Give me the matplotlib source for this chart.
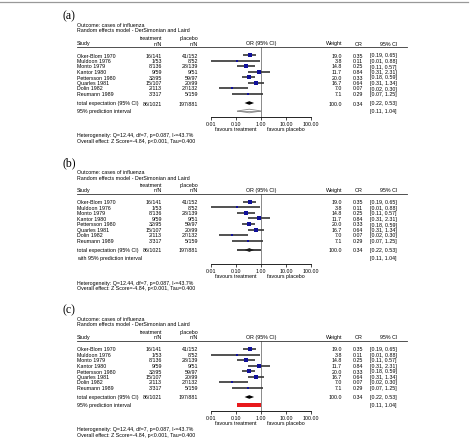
import numpy as np
import matplotlib.pyplot as plt
from matplotlib.lines import Line2D

# =====================================================
# DATA
# =====================================================

studies = ["Oker-Blom 1970", "Muldoon 1976", "Monto 1979", "Kantor 1980",
           "Pettersson 1980", "Quarles 1981", "Dolin 1982", "Reumann 1989"]
treat_nN = ["16/141", "1/53", "8/136", "9/59", "32/95", "15/107", "2/113", "3/317"]
plac_nN = ["41/152", "8/52", "28/139", "9/51", "59/97", "20/99", "27/132", "5/159"]
weight = np.array([19.0, 3.8, 14.8, 11.7, 20.0, 16.7, 7.0, 7.1])
odds = np.array([0.35, 0.11, 0.25, 0.84, 0.33, 0.64, 0.07, 0.29])
ci_lo = np.array([0.19, 0.01, 0.11, 0.31, 0.18, 0.31, 0.02, 0.07])
ci_hi = np.array([0.65, 0.88, 0.57, 2.31, 0.59, 1.34, 0.30, 1.25])

total_treat, total_plac = "86/1021", "197/881"
total_w, total_or, total_lo, total_hi = 100.0, 0.34, 0.22, 0.53
pred_lo, pred_hi = 0.11, 1.04

ticks = [0.01, 0.1, 1, 10, 100]

panel_labels = ["(a)", "(b)", "(c)"]
pred_texts = ["95% prediction interval", "with 95% prediction interval",
              "95% prediction interval"]

# =====================================================
# LAYOUT (pixels)
# =====================================================

W, H = 477, 439
FS = 3.8
plt.rcParams['font.family'] = ['Liberation Sans', 'DejaVu Sans']

fig = plt.figure(figsize=(W / 100, H / 100), dpi=100)


def fx(px):
    return px / W


def fy(py):
    return 1 - py / H


def txt(x, y, s, ha="left", **kw):
    fig.text(fx(x), fy(y), s, ha=ha, va="center", fontsize=kw.pop("fontsize", FS), **kw)


# page border at the top
fig.add_artist(Line2D([0, fx(468)], [fy(3), fy(3)], color="#999999", lw=0.9))

x_study, x_tr, x_pl = 77, 162, 198
x_w, x_or, x_ci = 342, 363, 397
row_y = 56 + 5.5 * np.arange(len(studies))
y_total, y_pred = 104, 112
ax_left, ax_right, ax_top, ax_bot = 211, 311, 48, 118

for k, off in enumerate([0, 147, 294]):
    txt(63, off + 16, panel_labels[k], family="Liberation Serif", fontsize=8.5)
    txt(x_study, off + 25.5, "Outcome: cases of influenza")
    txt(x_study, off + 31, "Random effects model - DerSimonian and Laird")
    txt(x_tr, off + 38.5, "treatment", ha="right")
    txt(x_pl, off + 38.5, "placebo", ha="right")
    txt(x_study, off + 44, "Study")
    txt(x_tr, off + 44, "n/N", ha="right")
    txt(x_pl, off + 44, "n/N", ha="right")
    txt(261, off + 44, "OR (95% CI)", ha="center")
    txt(x_w, off + 44, "Weight", ha="right")
    txt(x_or, off + 44, "OR", ha="right")
    txt(x_ci, off + 44, "95% CI", ha="right")
    fig.add_artist(Line2D([fx(77), fx(407)], [fy(off + 48), fy(off + 48)],
                          color="#333333", lw=0.6))

    for i in range(len(studies)):
        y = off + row_y[i]
        txt(x_study, y, studies[i])
        txt(x_tr, y, treat_nN[i], ha="right")
        txt(x_pl, y, plac_nN[i], ha="right")
        txt(x_w, y, f"{weight[i]:.1f}", ha="right")
        txt(x_or, y, f"{odds[i]:.2f}", ha="right")
        txt(x_ci, y, f"[{ci_lo[i]:.2f}, {ci_hi[i]:.2f}]", ha="right")

    txt(x_study, off + y_total, "total expectation (95% CI)")
    txt(x_tr, off + y_total, total_treat, ha="right")
    txt(x_pl, off + y_total, total_plac, ha="right")
    txt(x_w, off + y_total, f"{total_w:.1f}", ha="right")
    txt(x_or, off + y_total, f"{total_or:.2f}", ha="right")
    txt(x_ci, off + y_total, f"[{total_lo:.2f}, {total_hi:.2f}]", ha="right")
    txt(x_study, off + y_pred, pred_texts[k])
    txt(x_ci, off + y_pred, f"[{pred_lo:.2f}, {pred_hi:.2f}]", ha="right")

    txt(x_study, off + 136, "Heterogeneity: Q=12.44, df=7, p=0.087, I\u00b2=43.7%")
    txt(x_study, off + 141.5, "Overall effect: Z Score=-4.84, p<0.001, Tau=0.400")

    # forest plot
    ax = fig.add_axes([fx(ax_left), fy(off + ax_bot),
                       (ax_right - ax_left) / W, (ax_bot - ax_top) / H])
    ax.set_xscale("log")
    ax.set_xlim(0.01, 100)
    ax.set_ylim(ax_bot, ax_top)
    ax.patch.set_alpha(0)
    for s in ["top", "right", "left"]:
        ax.spines[s].set_visible(False)
    ax.spines["bottom"].set_linewidth(0.6)
    ax.set_yticks([])
    ax.set_xticks(ticks)
    ax.set_xticklabels([f"{t:.2f}" for t in ticks])
    ax.minorticks_off()
    ax.tick_params(axis="x", labelsize=FS, length=1.8, width=0.5, pad=1.0)
    ax.axvline(1, color="#777777", lw=0.6)

    for i in range(len(studies)):
        ax.plot([ci_lo[i], ci_hi[i]], [row_y[i], row_y[i]], color="#333333",
                lw=1.2, solid_capstyle="butt")
        ax.plot(odds[i], row_y[i], "s", color="#10109a",
                ms=max(1.5, 3.0 * np.sqrt(weight[i] / 20.0)), mew=0)

    if k == 1:
        ax.plot([pred_lo, pred_hi], [y_total, y_total], color="#222222", lw=1.2,
                solid_capstyle="butt")
    dh = 1.8
    ax.fill([total_lo, total_or, total_hi, total_or],
            [y_total, y_total - dh, y_total, y_total + dh], color="black", lw=0)
    if k == 0:
        ax.fill([pred_lo, total_or, pred_hi, total_or],
                [y_pred, y_pred - 1.8, y_pred, y_pred + 1.8],
                facecolor="white", edgecolor="#888888", lw=0.6)
        ax.plot([pred_lo, pred_hi], [y_pred, y_pred], color="#888888", lw=0.6)
    if k == 2:
        ax.fill([pred_lo, pred_hi, pred_hi, pred_lo],
                [y_pred - 1.8, y_pred - 1.8, y_pred + 1.8, y_pred + 1.8],
                color="#e8191c", lw=0)

    ax.annotate("favours treatment", xy=(0.1, 0), xycoords=("data", "axes fraction"),
                xytext=(0, -8.5), textcoords="offset points", ha="center", va="center",
                fontsize=FS)
    ax.annotate("favours placebo", xy=(10, 0), xycoords=("data", "axes fraction"),
                xytext=(0, -8.5), textcoords="offset points", ha="center", va="center",
                fontsize=FS)

plt.savefig("out.png", dpi=100)
